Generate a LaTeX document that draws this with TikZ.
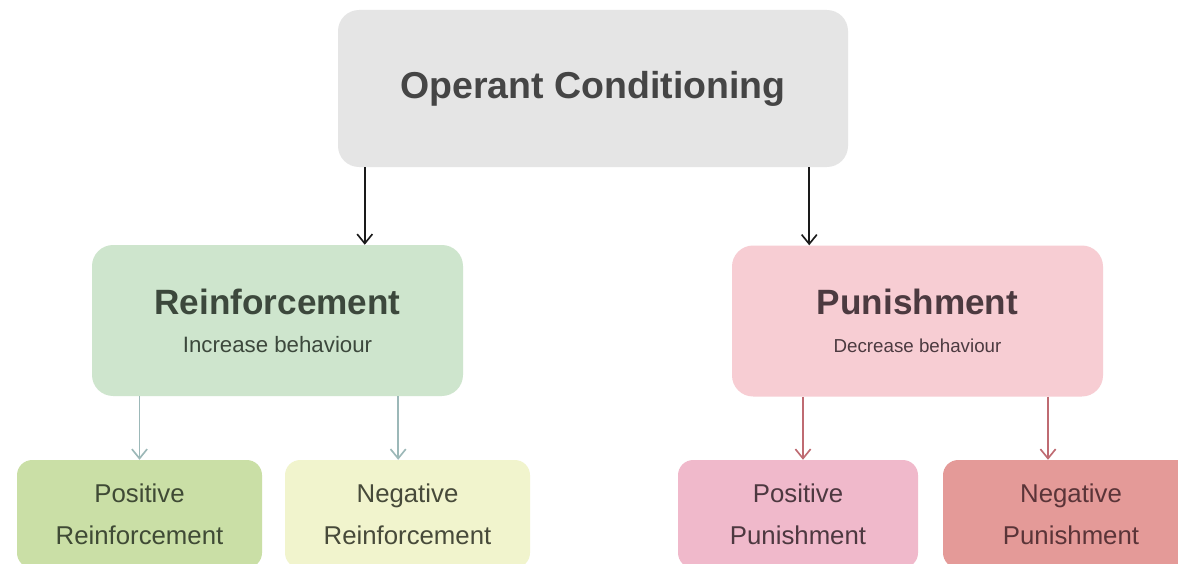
\documentclass[tikz,border=0pt]{standalone}
\usepackage{fontspec}
\setmainfont{Liberation Sans}
\usetikzlibrary{arrows.meta, positioning}
\definecolor{condcolor}{RGB}{229,229,229}
\definecolor{condtext}{RGB}{69,69,69}
\definecolor{reinfcolor}{RGB}{206,229,205}
\definecolor{reinftext}{RGB}{60,72,60}
\definecolor{puncolor}{RGB}{247,205,211}
\definecolor{puntext}{RGB}{76,58,64}
\definecolor{posrcolor}{RGB}{202,223,166}
\definecolor{posrtext}{RGB}{63,74,53}
\definecolor{negrcolor}{RGB}{241,244,205}
\definecolor{negrtext}{RGB}{71,74,58}
\definecolor{pospcolor}{RGB}{240,185,203}
\definecolor{posptext}{RGB}{77,56,64}
\definecolor{negpcolor}{RGB}{228,154,152}
\definecolor{negptext}{RGB}{90,52,56}
\definecolor{arrowblack}{RGB}{26,26,26}
\definecolor{arrowgreen}{RGB}{156,184,184}
\definecolor{arrowred}{RGB}{191,107,114}

\begin{document}
\begin{tikzpicture}[
    box/.style={rounded corners=18pt, align=center, inner sep=0pt},
    condbox/.style={box, fill=condcolor, text=condtext,
                    minimum width=15.3cm, minimum height=4.71cm,
                    font=\fontsize{32}{36}\selectfont\bfseries},
    mainbox/.style={box, minimum width=11.13cm, minimum height=4.53cm,
                    font=\fontsize{19}{32.4}\selectfont},
    reinfbox/.style={mainbox, fill=reinfcolor, text=reinftext},
    punbox/.style={mainbox, fill=puncolor, text=puntext},
    leafbox/.style={box, rounded corners=13pt, minimum height=3.24cm,
                    font=\fontsize{22}{36}\selectfont},
    arr/.style={-{Straight Barb[length=8pt,width=13pt]}, line width=1.4pt, color=arrowblack},
    greenarr/.style={arr, color=arrowgreen},
    redarr/.style={arr, color=arrowred},
]

\fill[white] (0,0) rectangle (35.34,-16.89);
\clip (0,0) rectangle (35.34,-16.89);

%% ── Top: Operant Conditioning ───────────────────────────────────────────────
\node[condbox] (cond) at (17.79,-2.655) {Operant Conditioning};

%% ── Middle row ──────────────────────────────────────────────────────────────
\node[reinfbox] (reinf) at (8.325,-9.615)
  {{\fontsize{30}{32.4}\selectfont\bfseries Reinforcement}\\
   Increase behaviour};

\node[punbox] (pun) at (27.525,-9.63)
  {{\fontsize{30}{32.4}\selectfont\bfseries Punishment}\\
   {\fontsize{16}{32.4}\selectfont Decrease behaviour}};

%% ── Bottom row ──────────────────────────────────────────────────────────────
\node[leafbox, fill=posrcolor, text=posrtext, minimum width=7.35cm]
  (posr) at (4.185,-15.42) {Positive\\Reinforcement};
\node[leafbox, fill=negrcolor, text=negrtext, minimum width=7.35cm]
  (negr) at (12.225,-15.42) {Negative\\Reinforcement};
\node[leafbox, fill=pospcolor, text=posptext, minimum width=7.2cm]
  (posp) at (23.94,-15.42) {Positive\\Punishment};
\node[leafbox, fill=negpcolor, text=negptext, minimum width=7.68cm]
  (negp) at (32.13,-15.42) {Negative\\Punishment};

%% ── Arrows ──────────────────────────────────────────────────────────────────
\draw[arr] ([xshift=0.81cm]cond.south west) -- ([xshift=0.81cm]cond.south west |- reinf.north);
\draw[arr] ([xshift=-1.17cm]cond.south east) -- ([xshift=-1.17cm]cond.south east |- pun.north);

\draw[greenarr] (posr.north |- reinf.south) -- (posr.north);
\draw[greenarr] ([xshift=-0.28cm]negr.north |- reinf.south) -- ([xshift=-0.28cm]negr.north);

\draw[redarr] ([xshift=0.15cm]posp.north |- pun.south) -- ([xshift=0.15cm]posp.north);
\draw[redarr] ([xshift=-0.69cm]negp.north |- pun.south) -- ([xshift=-0.69cm]negp.north);

\end{tikzpicture}
\end{document}
